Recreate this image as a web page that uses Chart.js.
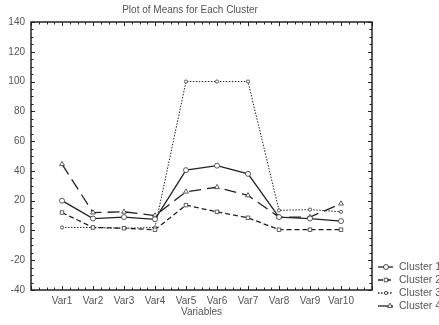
<!DOCTYPE html>
<html>
<head>
<meta charset="utf-8">
<script src="https://cdn.jsdelivr.net/npm/chart.js@4"></script>
<style>
  html, body { margin: 0; padding: 0; background: #fff; }
  #wrap { width: 439px; height: 325px; }
</style>
</head>
<body>
<div id="wrap"><canvas id="meansChart"></canvas></div>
<script>
var variables = ['Var1', 'Var2', 'Var3', 'Var4', 'Var5', 'Var6', 'Var7', 'Var8', 'Var9', 'Var10'];
var clusterNames = ['Cluster 1', 'Cluster 2', 'Cluster 3', 'Cluster 4'];
var cluster1 = [20, 8, 9, 7.5, 40.5, 43.5, 38, 9, 8, 6.3];
var cluster2 = [12, 2, 1.5, 0.5, 17, 12.5, 8.5, 0.5, 0.5, 0.5];
var cluster3 = [2, 2, 1.5, 2, 100, 100, 100, 13.5, 14, 12.5];
var cluster4 = [44.5, 12, 12.5, 10, 26, 29, 23.5, 9, 9, 18];
var yTicks = [-40, -20, 0, 20, 40, 60, 80, 100, 120, 140];

var textColor = '#555';
var fontFamily = '"Liberation Sans", Arial, sans-serif';

function points(values) {
    return values.map(function (v, i) { return { x: i + 1, y: v }; });
}

var styles = [
    { dash: [], point: 'circle', radius: 2.5 },
    { dash: [5, 3], point: 'rect', radius: 2.5 },
    { dash: [1.5, 1.5], point: 'circle', radius: 1.6 },
    { dash: [12, 6], point: 'triangle', radius: 2.8 }
];

var series = [cluster1, cluster2, cluster3, cluster4];
var datasets = series.map(function (values, i) {
    return {
        label: clusterNames[i],
        data: points(values),
        borderColor: '#222',
        borderWidth: i === 2 ? 1 : 1.3,
        borderDash: styles[i].dash,
        pointStyle: styles[i].point,
        pointRadius: styles[i].radius,
        pointBackgroundColor: '#fff',
        pointBorderColor: '#333',
        pointBorderWidth: 0.8,
        tension: 0
    };
});

// frame, minor ticks, title and legend
var framePlugin = {
    id: 'frame',
    afterDraw: function (chart) {
        var ctx = chart.ctx;
        var a = chart.chartArea;
        var xs = chart.scales.x, ys = chart.scales.y;
        ctx.save();
        ctx.strokeStyle = '#222';
        ctx.lineWidth = 1.5;
        ctx.setLineDash([]);
        ctx.strokeRect(a.left, a.top, a.right - a.left, a.bottom - a.top);

        ctx.lineWidth = 1;
        ctx.beginPath();
        for (var v = -40; v <= 140; v += 5) {
            var py = Math.round(ys.getPixelForValue(v)) + 0.5;
            var len = v % 20 === 0 ? 4 : 2.5;
            ctx.moveTo(a.left, py); ctx.lineTo(a.left + len, py);
            ctx.moveTo(a.right, py); ctx.lineTo(a.right - len, py);
        }
        for (var q = 0; q <= 44; q++) {
            var xv = q / 4;
            var px = Math.round(xs.getPixelForValue(xv)) + 0.5;
            var l2 = q % 4 === 0 ? 4 : 2.5;
            ctx.moveTo(px, a.bottom); ctx.lineTo(px, a.bottom - l2);
            ctx.moveTo(px, a.top); ctx.lineTo(px, a.top + l2);
        }
        ctx.stroke();

        ctx.fillStyle = textColor;
        ctx.font = '10px ' + fontFamily;
        ctx.textAlign = 'center';
        ctx.textBaseline = 'middle';
        ctx.fillText('Plot of Means for Each Cluster', 190, 10);

        ctx.textAlign = 'left';
        ctx.font = '10.5px ' + fontFamily;
        chart.data.datasets.forEach(function (ds, i) {
            var y = 267 + i * 13;
            ctx.strokeStyle = '#222';
            ctx.lineWidth = 1.3;
            ctx.setLineDash(i === 3 ? [] : ds.borderDash);
            ctx.beginPath();
            ctx.moveTo(378, y); ctx.lineTo(393, y);
            ctx.stroke();
            ctx.setLineDash([]);
            ctx.lineWidth = 0.8;
            ctx.fillStyle = '#fff';
            Chart.helpers.drawPoint(ctx, { pointStyle: ds.pointStyle, radius: ds.pointRadius, borderWidth: 0.8 }, i === 3 ? 390 : 386, y);
            ctx.fillStyle = textColor;
            ctx.fillText(ds.label, 399, y);
        });
        ctx.restore();
    }
};

var ctx1 = document.getElementById('meansChart').getContext('2d');
var meansChart = new Chart(ctx1, {
    type: 'line',
    data: { datasets: datasets },
    plugins: [framePlugin],
    options: {
        responsive: true,
        maintainAspectRatio: false,
        animation: false,
        layout: { padding: { top: 22, right: 67, left: 0, bottom: 0 } },
        scales: {
            x: {
                type: 'linear',
                min: 0,
                max: 11,
                grid: { display: false, drawTicks: false },
                border: { display: false },
                afterBuildTicks: function (scale) {
                    scale.ticks = variables.map(function (v, i) { return { value: i + 1 }; });
                },
                afterFit: function (scale) { scale.height = 35; },
                ticks: {
                    padding: 5,
                    color: textColor,
                    font: { family: fontFamily, size: 10 },
                    maxRotation: 0,
                    autoSkip: false,
                    callback: function (value) { return variables[value - 1]; }
                },
                title: {
                    display: true,
                    text: 'Variables',
                    color: textColor,
                    font: { family: fontFamily, size: 10 },
                    padding: { top: 0, bottom: 7 }
                }
            },
            y: {
                min: -40,
                max: 140,
                grid: { display: false, drawTicks: false },
                border: { display: false },
                afterBuildTicks: function (scale) {
                    scale.ticks = yTicks.map(function (v) { return { value: v }; });
                },
                afterFit: function (scale) { scale.width = 31; },
                ticks: {
                    padding: 6,
                    color: textColor,
                    font: { family: fontFamily, size: 10 }
                }
            }
        },
        plugins: {
            legend: { display: false },
            title: { display: false },
            tooltip: { enabled: false }
        }
    }
});
</script>
</body>
</html>
